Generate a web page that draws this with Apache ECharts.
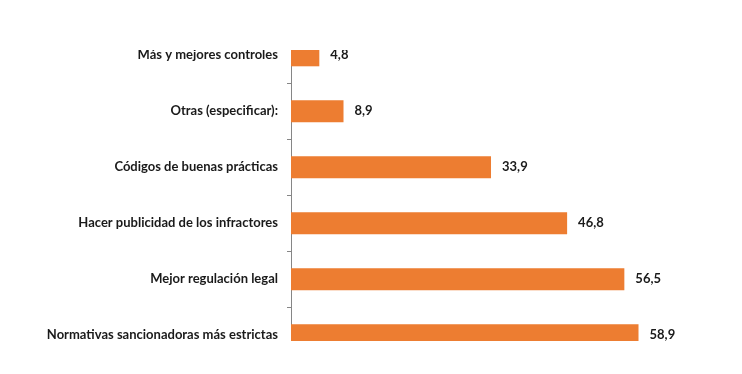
<!DOCTYPE html>
<html>
<head>
<meta charset="utf-8">
<script src="https://cdn.jsdelivr.net/npm/echarts@6/dist/echarts.min.js"></script>
<style>
html,body{margin:0;padding:0;background:#fff;}
#chart{width:742px;height:374px;}
</style>
</head>
<body>
<div id="chart"></div>
<script>
const categories = [
  "Más y mejores controles",
  "Otras (especificar):",
  "Códigos de buenas prácticas",
  "Hacer publicidad de los infractores",
  "Mejor regulación legal",
  "Normativas sancionadoras más estrictas"
];
const values = [4.8, 8.9, 33.9, 46.8, 56.5, 58.9];

const chart = echarts.init(document.getElementById('chart'));
chart.setOption({
  animation: false,
  backgroundColor: '#ffffff',
  grid: { left: 291, right: 38, top: 27.3, height: 336, containLabel: false },
  xAxis: {
    type: 'value', min: 0, max: 70,
    show: false
  },
  yAxis: {
    type: 'category',
    data: categories,
    inverse: true,
    axisLine: { show: true, lineStyle: { color: '#868686', width: 1 } },
    axisTick: { show: true, length: 4, lineStyle: { color: '#868686' } },
    axisLabel: {
      margin: 13,
      fontFamily: 'Lato',
      fontSize: 13,
      fontWeight: 'bold',
      color: '#1a1a1a'
    }
  },
  series: [{
    type: 'bar',
    data: values,
    barWidth: 22,
    itemStyle: { color: '#ED7D31' },
    label: {
      show: true,
      position: 'right',
      distance: 11,
      fontFamily: 'Lato',
      fontSize: 13,
      fontWeight: 'bold',
      color: '#1a1a1a',
      formatter: p => String(p.value).replace('.', ',')
    }
  }],
  graphic: [
    { type: 'rect', z: 100, shape: { x: 0, y: 0, width: 742, height: 50 }, style: { fill: '#ffffff' } },
    { type: 'rect', z: 100, shape: { x: 0, y: 341, width: 742, height: 33 }, style: { fill: '#ffffff' } }
  ]
});
</script>
</body>
</html>
